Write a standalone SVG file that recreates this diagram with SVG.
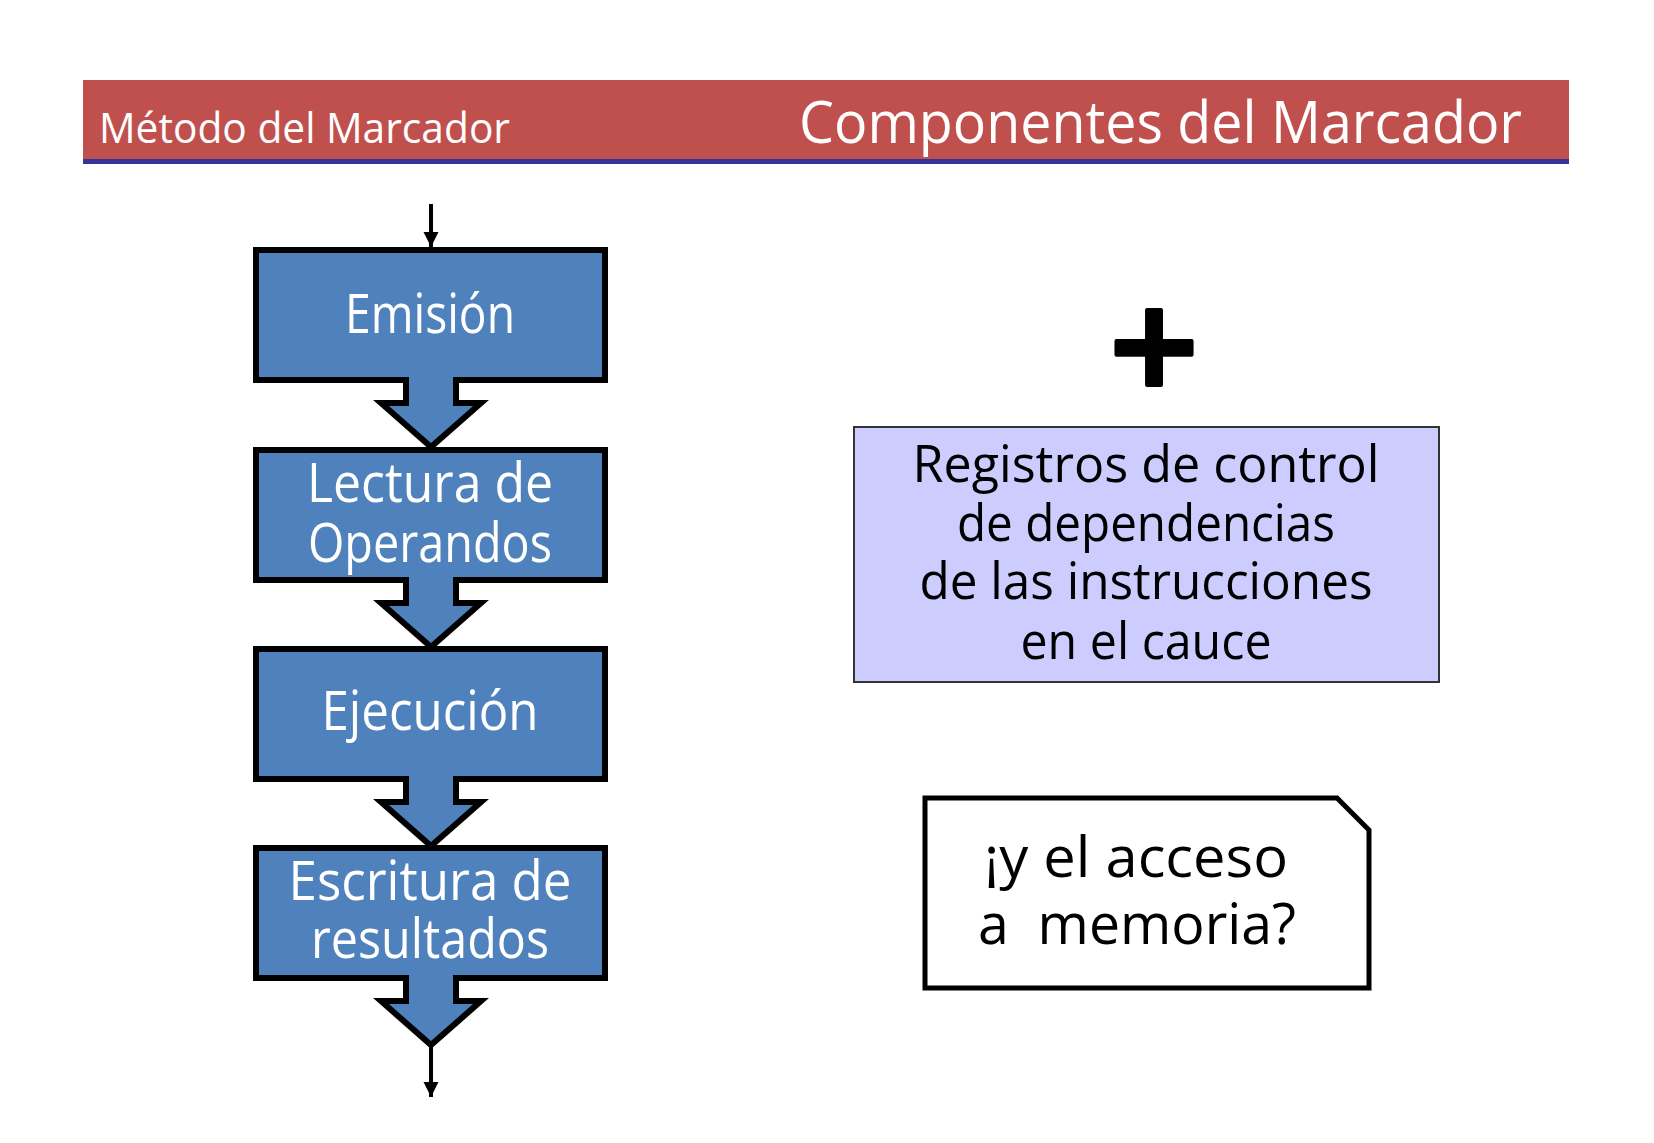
<svg xmlns="http://www.w3.org/2000/svg" width="1654" height="1143" viewBox="0 0 1654 1143">
<defs>
<style>
.stage{fill:#4F81BD;stroke:#000;stroke-width:6;stroke-linejoin:miter}
.chev{fill:#4F81BD;stroke:#000;stroke-width:6;stroke-linejoin:miter;stroke-linecap:butt}
.wt{fill:#fff;font-family:"Open Sans","DejaVu Sans",sans-serif;font-size:55px;text-anchor:middle}
.bt{fill:#000;font-family:"Open Sans","DejaVu Sans",sans-serif;text-anchor:middle}
.conn{stroke:#000;stroke-width:4;fill:none}
</style>
<marker id="ah" viewBox="0 0 10 10" refX="10" refY="5" markerWidth="3.8" markerHeight="5.2" markerUnits="strokeWidth" orient="auto">
<path d="M0,0 L10,5 L0,10 z" fill="#000"/>
</marker>
</defs>
<rect width="1654" height="1143" fill="#fff"/>
<g id="header">
<rect x="83" y="80" width="1486" height="80" fill="#C0504D"/>
<rect x="83" y="159" width="1486" height="5" fill="#333399"/>
<text x="99" y="143" fill="#fff" font-family="Open Sans, DejaVu Sans, sans-serif" font-size="42" textLength="411" lengthAdjust="spacingAndGlyphs">Método del Marcador</text>
<text x="799" y="143" fill="#fff" font-family="Open Sans, DejaVu Sans, sans-serif" font-size="59" textLength="723" lengthAdjust="spacingAndGlyphs">Componentes del Marcador</text>
</g>
<g id="connectors">
<line class="conn" x1="431" y1="204" x2="431" y2="247" marker-end="url(#ah)"/>
<line class="conn" x1="431" y1="1044" x2="431" y2="1097" marker-end="url(#ah)"/>
</g>
<g id="emision">
<rect class="stage" x="256" y="250" width="349" height="130"/>
<text class="wt" x="430" y="333" textLength="170" lengthAdjust="spacingAndGlyphs">Emisión</text>
</g>
<g id="lectura">
<rect class="stage" x="256" y="450" width="349" height="130"/>
<text class="wt" x="430" y="502" textLength="246" lengthAdjust="spacingAndGlyphs">Lectura de</text>
<text class="wt" x="430" y="562" textLength="244" lengthAdjust="spacingAndGlyphs">Operandos</text>
</g>
<g id="ejecucion">
<rect class="stage" x="256" y="649" width="349" height="130"/>
<text class="wt" x="430" y="730" textLength="217" lengthAdjust="spacingAndGlyphs">Ejecución</text>
</g>
<g id="escritura">
<rect class="stage" x="256" y="848" width="349" height="130"/>
<text class="wt" x="430" y="900" textLength="283" lengthAdjust="spacingAndGlyphs">Escritura de</text>
<text class="wt" x="430" y="958" textLength="238" lengthAdjust="spacingAndGlyphs">resultados</text>
</g>
<g id="chevrons">
<path class="chev" d="M406,377 V403 H381 L431,447 L481,403 H456 V377"/>
<path class="chev" d="M406,577 V603 H381 L431,647 L481,603 H456 V577"/>
<path class="chev" d="M406,776 V802 H381 L431,846 L481,802 H456 V776"/>
<path class="chev" d="M406,975 V1001 H381 L431,1045 L481,1001 H456 V975"/>
</g>
<g id="plus">
<text x="1154" y="385" fill="#000" stroke="#000" stroke-width="4" stroke-linejoin="round" font-family="DejaVu Sans, sans-serif" font-weight="bold" font-size="120" text-anchor="middle">+</text>
</g>
<g id="registros">
<rect x="854" y="427" width="585" height="255" fill="#CCCCFF" stroke="#333" stroke-width="2"/>
<text class="bt" x="1146" y="482" font-size="52" textLength="467" lengthAdjust="spacingAndGlyphs">Registros de control</text>
<text class="bt" x="1146" y="541" font-size="52" textLength="378" lengthAdjust="spacingAndGlyphs">de dependencias</text>
<text class="bt" x="1146" y="599" font-size="52" textLength="453" lengthAdjust="spacingAndGlyphs">de las instrucciones</text>
<text class="bt" x="1146" y="659" font-size="52" textLength="251" lengthAdjust="spacingAndGlyphs">en el cauce</text>
</g>
<g id="memoria">
<path d="M925,798 H1337 L1369,830 V988 H925 Z" fill="#fff" stroke="#000" stroke-width="5" stroke-linejoin="miter"/>
<text class="bt" x="1136" y="877" font-size="56" textLength="304" lengthAdjust="spacingAndGlyphs">¡y el acceso</text>
<text class="bt" x="1137" y="944" font-size="56" textLength="318" lengthAdjust="spacingAndGlyphs" xml:space="preserve">a  memoria?</text>
</g>
</svg>
